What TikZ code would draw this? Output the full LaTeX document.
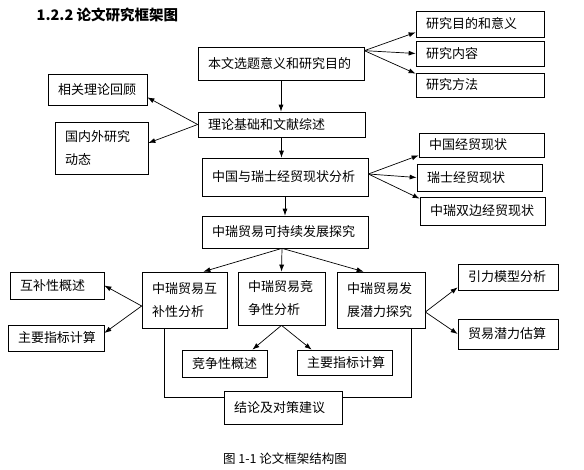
\documentclass[tikz,border=0pt]{standalone}
\usepackage{fontspec}
\setmainfont{Noto Sans CJK SC}
\usetikzlibrary{arrows.meta}
\tikzset{
  box/.style={draw,line width=0.7pt,inner xsep=10pt,inner ysep=0pt,align=left},
}
\begin{document}
\begin{tikzpicture}[x=1pt,y=-1pt,>={Latex[length=7pt,width=5pt]},line width=0.7pt,font=\fontsize{13}{23}\selectfont]
\useasboundingbox (0,0) rectangle (584,469);
\node[anchor=west,font=\fontsize{14.5}{16}\selectfont\bfseries] (title) at (33,15) {1.2.2 论文研究框架图};
\node[box,text width=146pt,minimum height=33pt] (A) at (281,63.5) {本文选题意义和研究目的};
\node[box,text width=108pt,minimum height=26pt] (r1) at (480,24) {研究目的和意义};
\node[box,text width=108pt,minimum height=25pt] (r2) at (480,53.5) {研究内容};
\node[box,text width=108pt,minimum height=24pt] (r3) at (480,85) {研究方法};
\node[box,text width=79pt,minimum height=31pt] (l1) at (97.5,89.5) {相关理论回顾};
\node[box,text width=147pt,minimum height=25pt] (B) at (281.5,124.5) {理论基础和文献综述};
\node[box,text width=73pt,minimum height=52pt] (l2) at (101.5,148) {国内外研究\\动态};
\node[box,text width=146pt,minimum height=38pt] (C) at (285,177) {中国与瑞士经贸现状分析};
\node[box,text width=105pt,minimum height=24pt] (c1) at (481.5,145) {中国经贸现状};
\node[box,text width=105pt,minimum height=27pt] (c2) at (479.5,177.5) {瑞士经贸现状};
\node[box,text width=105pt,minimum height=28pt] (c3) at (482.5,211) {中瑞双边经贸现状};
\node[box,text width=146pt,minimum height=32pt] (D) at (285,232) {中瑞贸易可持续发展探究};
\node[box,text width=65pt,minimum height=56pt] (E1) at (184.5,300) {中瑞贸易互\\补性分析};
\node[box,text width=67pt,minimum height=53pt] (E2) at (281.5,298.5) {中瑞贸易竞\\争性分析};
\node[box,text width=68pt,minimum height=56pt] (E3) at (381,300) {中瑞贸易发\\展潜力探究};
\node[box,text width=74pt,minimum height=27pt] (f1) at (57,285.5) {互补性概述};
\node[box,text width=76pt,minimum height=26pt] (f2) at (56,338) {主要指标计算};
\node[box,text width=65pt,minimum height=27pt] (g1) at (224.5,363.5) {竞争性概述};
\node[box,text width=75pt,minimum height=25pt] (g2) at (344.5,362.5) {主要指标计算};
\node[box,text width=80pt,minimum height=26pt] (h1) at (508,277) {引力模型分析};
\node[box,text width=80pt,minimum height=30pt] (h2) at (508,334) {贸易潜力估算};
\node[box,text width=98pt,minimum height=33pt] (K) at (283,407.5) {结论及对策建议};
\node[font=\fontsize{12.5}{14}\selectfont] (cap) at (285,459) {图 1-1 论文框架结构图};

\draw[->] ([yshift=-4pt]A.north east) -- ([yshift=5pt]r1.south west);
\draw[->] ([yshift=-4pt]A.north east) -- (r2.west);
\draw[->] ([yshift=-4pt]A.north east) -- ([yshift=-1pt]r3.north west);
\draw[->] (A.south) -- (A.south |- B.north);
\draw[->] (B.west) -- ([yshift=8pt]l1.south east);
\draw[->] (B.west) -- ([yshift=5pt]l2.east);
\draw[->] (B.south) -- (B.south |- C.north);
\draw[->] ([yshift=3pt]C.east) -- ([yshift=2pt]c1.south west);
\draw[->] ([yshift=3pt]C.east) -- (c2.west);
\draw[->] ([yshift=3pt]C.east) -- ([yshift=-2pt]c3.north west);
\draw[->] (C.south) -- (D.north);
\draw[->] ([xshift=-3pt]D.south) -- ([xshift=-24pt]E1.north east);
\draw[->] ([xshift=-3pt]D.south) -- (E2.north);
\draw[->] ([xshift=-3pt]D.south) -- ([xshift=27pt]E3.north west);
\draw[->] ([yshift=-6pt]E1.west) -- (f1.east);
\draw[->] ([yshift=-6pt]E1.west) -- ([yshift=5pt]f2.east);
\draw[->] (E2.south) -- ([xshift=-15pt]g1.north east);
\draw[->] (E2.south) -- ([xshift=15pt]g2.north west);
\draw[->] ([yshift=-12pt]E3.east) -- ([yshift=3pt]h1.south west);
\draw[->] ([yshift=-12pt]E3.east) -- (h2.west);
\draw ([xshift=23pt]E1.south west) |- ([yshift=-7pt]K.north west);
\draw ([xshift=-14pt]E3.south east) |- ([yshift=-7pt]K.north east);
\end{tikzpicture}
\end{document}
